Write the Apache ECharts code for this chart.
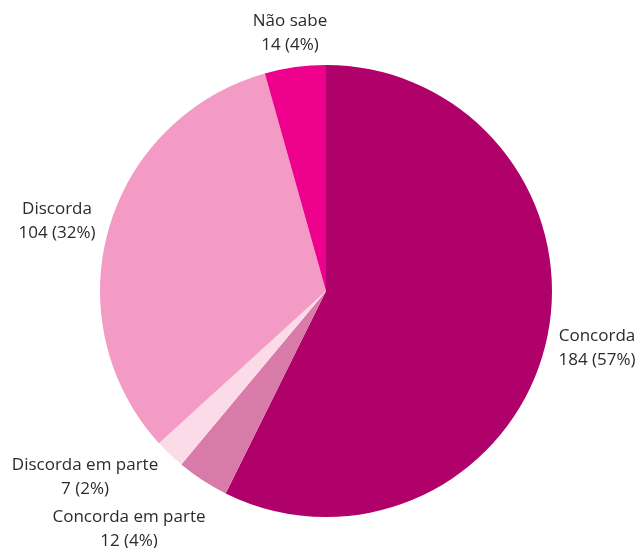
<!DOCTYPE html>
<html>
<head>
<meta charset="utf-8">
<script src="https://cdn.jsdelivr.net/npm/echarts@6/dist/echarts.min.js"></script>
<style>
  html, body { margin: 0; padding: 0; background: #fff; }
  #chart { width: 639px; height: 548px; }
</style>
</head>
<body>
<div id="chart"></div>
<script>
const categories = ["Concorda", "Concorda em parte", "Discorda em parte", "Discorda", "Não sabe"];
const counts = [184, 12, 7, 104, 14];
const sliceColors = ["#b0006a", "#d97ba8", "#fcdbe8", "#f39bc4", "#ec008c"];

// where each label block sits (centre of the two lines)
const labelSpots = [[597, 348], [129, 529], [85, 477], [57, 221], [290, 33]];

const chart = echarts.init(document.getElementById("chart"));

const total = counts.reduce((a, b) => a + b, 0);

const option = {
    animation: false,
    series: [{
        type: "pie",
        center: [326, 291],
        radius: 226,
        startAngle: 90,
        clockwise: true,
        avoidLabelOverlap: false,
        itemStyle: { borderWidth: 0 },
        label: {
            show: true,
            position: "outside",
            fontFamily: "Open Sans",
            fontSize: 17,
            lineHeight: 24,
            color: "#2b2b2b",
            align: "center",
            formatter: p => p.name + "\n" + p.value + " (" + Math.round(p.value / total * 100) + "%)"
        },
        labelLine: { show: false },
        labelLayout: params => ({
            x: labelSpots[params.dataIndex][0],
            y: labelSpots[params.dataIndex][1],
            align: "center",
            verticalAlign: "middle",
            hideOverlap: false,
            moveOverlap: null
        }),
        data: categories.map((c, i) => ({
            name: c,
            value: counts[i],
            itemStyle: { color: sliceColors[i] }
        }))
    }]
};

chart.setOption(option);
</script>
</body>
</html>
